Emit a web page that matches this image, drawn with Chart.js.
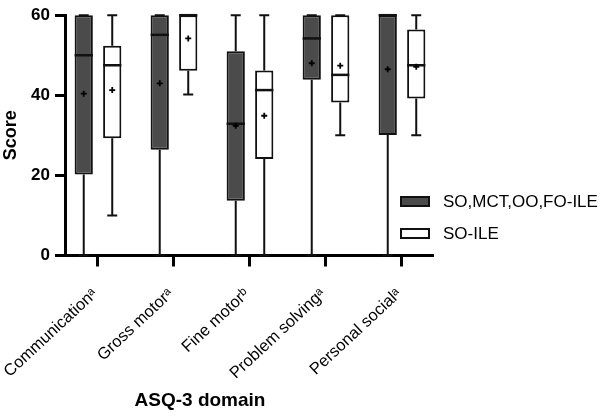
<!DOCTYPE html>
<html>
<head>
<meta charset="utf-8">
<script src="https://cdn.jsdelivr.net/npm/chart.js@4.4.1/dist/chart.umd.min.js"></script>
<style>
  html, body { margin: 0; padding: 0; background: #fff; }
  #wrap { position: relative; width: 611px; height: 417px; }
</style>
</head>
<body>
<div id="wrap"><canvas id="c" width="611" height="417"></canvas></div>
<script>
// ---- data ----
const categories = ['Communicationᵃ', 'Gross motorᵃ', 'Fine motorᵇ', 'Problem solvingᵃ', 'Personal socialᵃ'];
const seriesLabels = ['SO,MCT,OO,FO-ILE', 'SO-ILE'];
const yTicks = [0, 20, 40, 60];
const yTitle = 'Score';
const xTitle = 'ASQ-3 domain';

// SO,MCT,OO,FO-ILE
const groupAMin    = [0, 0, 0, 0, 0];
const groupAQ1     = [20.2, 26.4, 13.7, 43.9, 30.1];
const groupAMedian = [50, 55.1, 32.9, 54.2, 60];
const groupAQ3     = [60, 60, 51, 60, 60];
const groupAMax    = [60, 60, 60, 60, 60];
const groupAMean   = [40.4, 43, 32.4, 48, 46.5];

// SO-ILE
const groupBMin    = [10, 40.2, 0, 30, 30];
const groupBQ1     = [29.3, 46.1, 24.1, 38.2, 39.2];
const groupBMedian = [47.5, 60, 41.3, 45.1, 47.5];
const groupBQ3     = [52.4, 60, 46.2, 60, 56.4];
const groupBMax    = [60, 60, 60, 60, 60];
const groupBMean   = [41.3, 54.2, 34.9, 47.4, 47.1];

// ---- chart ----
const FONT = '"Liberation Sans", Arial, Helvetica, sans-serif';

function makeDataset(label, q1, q3, stats, fill) {
  return {
    label: label,
    data: categories.map((c, i) => ({ x: i, y: [q1[i], q3[i]] })),
    stats: stats,
    backgroundColor: fill,
    borderColor: '#111',
    borderWidth: 2,
    borderSkipped: false,
    categoryPercentage: 0.75,
    barPercentage: 0.64,
    clip: false
  };
}

const boxPlugin = {
  id: 'boxParts',
  beforeDatasetsDraw(chart) {
    const ctx = chart.ctx, y = chart.scales.y;
    chart.data.datasets.forEach((ds, di) => {
      const meta = chart.getDatasetMeta(di);
      const s = ds.stats;
      meta.data.forEach((el, i) => {
        const x = el.x;
        const cap = 10;
        ctx.save();
        ctx.strokeStyle = '#111';
        ctx.lineWidth = 2;
        ctx.beginPath();
        ctx.moveTo(x, y.getPixelForValue(s.q3[i]));
        ctx.lineTo(x, y.getPixelForValue(s.max[i]));
        ctx.moveTo(x, y.getPixelForValue(s.q1[i]));
        ctx.lineTo(x, y.getPixelForValue(s.min[i]));
        ctx.moveTo(x - cap / 2, y.getPixelForValue(s.max[i]));
        ctx.lineTo(x + cap / 2, y.getPixelForValue(s.max[i]));
        ctx.moveTo(x - cap / 2, y.getPixelForValue(s.min[i]));
        ctx.lineTo(x + cap / 2, y.getPixelForValue(s.min[i]));
        ctx.stroke();
        ctx.restore();
      });
    });
  },
  afterDatasetsDraw(chart) {
    const ctx = chart.ctx, y = chart.scales.y;
    chart.data.datasets.forEach((ds, di) => {
      const meta = chart.getDatasetMeta(di);
      const s = ds.stats;
      meta.data.forEach((el, i) => {
        const x = el.x, w = el.width;
        ctx.save();
        ctx.strokeStyle = '#111';
        ctx.lineWidth = 2.5;
        const my = y.getPixelForValue(s.median[i]);
        ctx.beginPath();
        ctx.moveTo(x - w / 2, my);
        ctx.lineTo(x + w / 2, my);
        ctx.stroke();
        // mean "+"
        const mny = y.getPixelForValue(s.mean[i]);
        ctx.lineWidth = 1.8;
        ctx.strokeStyle = '#000';
        ctx.beginPath();
        ctx.moveTo(x - 3, mny); ctx.lineTo(x + 3, mny);
        ctx.moveTo(x, mny - 3); ctx.lineTo(x, mny + 3);
        ctx.stroke();
        ctx.restore();
      });
    });
  },
  afterDraw(chart) {
    const ctx = chart.ctx;
    ctx.save();
    // legend
    const lx = 401, ly = [197, 229];
    chart.data.datasets.forEach((ds, di) => {
      ctx.fillStyle = ds.backgroundColor;
      ctx.fillRect(lx, ly[di], 28, 9);
      ctx.strokeStyle = '#111';
      ctx.lineWidth = 2;
      ctx.strokeRect(lx, ly[di], 28, 9);
      ctx.fillStyle = '#000';
      ctx.font = '17px ' + FONT;
      ctx.textBaseline = 'middle';
      ctx.textAlign = 'left';
      ctx.fillText(ds.label, 443, ly[di] + 5);
    });
    // x axis title
    ctx.font = 'bold 19px ' + FONT;
    ctx.textAlign = 'center';
    ctx.textBaseline = 'middle';
    ctx.fillStyle = '#000';
    ctx.fillText(xTitle, 200, 401);
    ctx.restore();
  }
};

new Chart(document.getElementById('c'), {
  type: 'bar',
  data: {
    datasets: [
      makeDataset(seriesLabels[0], groupAQ1, groupAQ3,
        { min: groupAMin, q1: groupAQ1, median: groupAMedian, q3: groupAQ3, max: groupAMax, mean: groupAMean }, '#4b4b4b'),
      makeDataset(seriesLabels[1], groupBQ1, groupBQ3,
        { min: groupBMin, q1: groupBQ1, median: groupBMedian, q3: groupBQ3, max: groupBMax, mean: groupBMean }, '#ffffff')
    ]
  },
  options: {
    responsive: false,
    animation: false,
    events: [],
    layout: { padding: { top: 10, right: 178, left: 0, bottom: 0 } },
    plugins: { legend: { display: false }, tooltip: { enabled: false } },
    scales: {
      x: {
        type: 'linear',
        offset: false,
        min: -0.434,
        max: 4.408,
        afterBuildTicks: (scale) => { scale.ticks = categories.map((c, i) => ({ value: i })); },
        afterFit: (scale) => { scale.height = 161.5; scale.paddingLeft = 0; scale.paddingRight = 0; },
        ticks: {
          callback: (v) => categories[v],
          autoSkip: false,
          minRotation: 43,
          maxRotation: 43,
          padding: 18,
          labelOffset: -3,
          color: '#000',
          font: { family: FONT, size: 16.5 }
        },
        grid: { offset: false, drawOnChartArea: false, drawTicks: true, tickLength: 11, tickWidth: 3, tickColor: '#000' },
        border: { display: true, color: '#000', width: 3 }
      },
      y: {
        min: 0,
        max: 60,
        afterBuildTicks: (scale) => { scale.ticks = yTicks.map(v => ({ value: v })); },
        afterFit: (scale) => { scale.width = 65; },
        ticks: {
          padding: 5,
          color: '#000',
          font: { family: FONT, size: 17, weight: 'bold' }
        },
        title: {
          display: true,
          text: yTitle,
          color: '#000',
          padding: 0,
          font: { family: FONT, size: 18, weight: 'bold' }
        },
        grid: { drawOnChartArea: false, drawTicks: true, tickLength: 10, tickWidth: 3, tickColor: '#000' },
        border: { display: true, color: '#000', width: 3 }
      }
    }
  },
  plugins: [boxPlugin]
});
</script>
</body>
</html>
